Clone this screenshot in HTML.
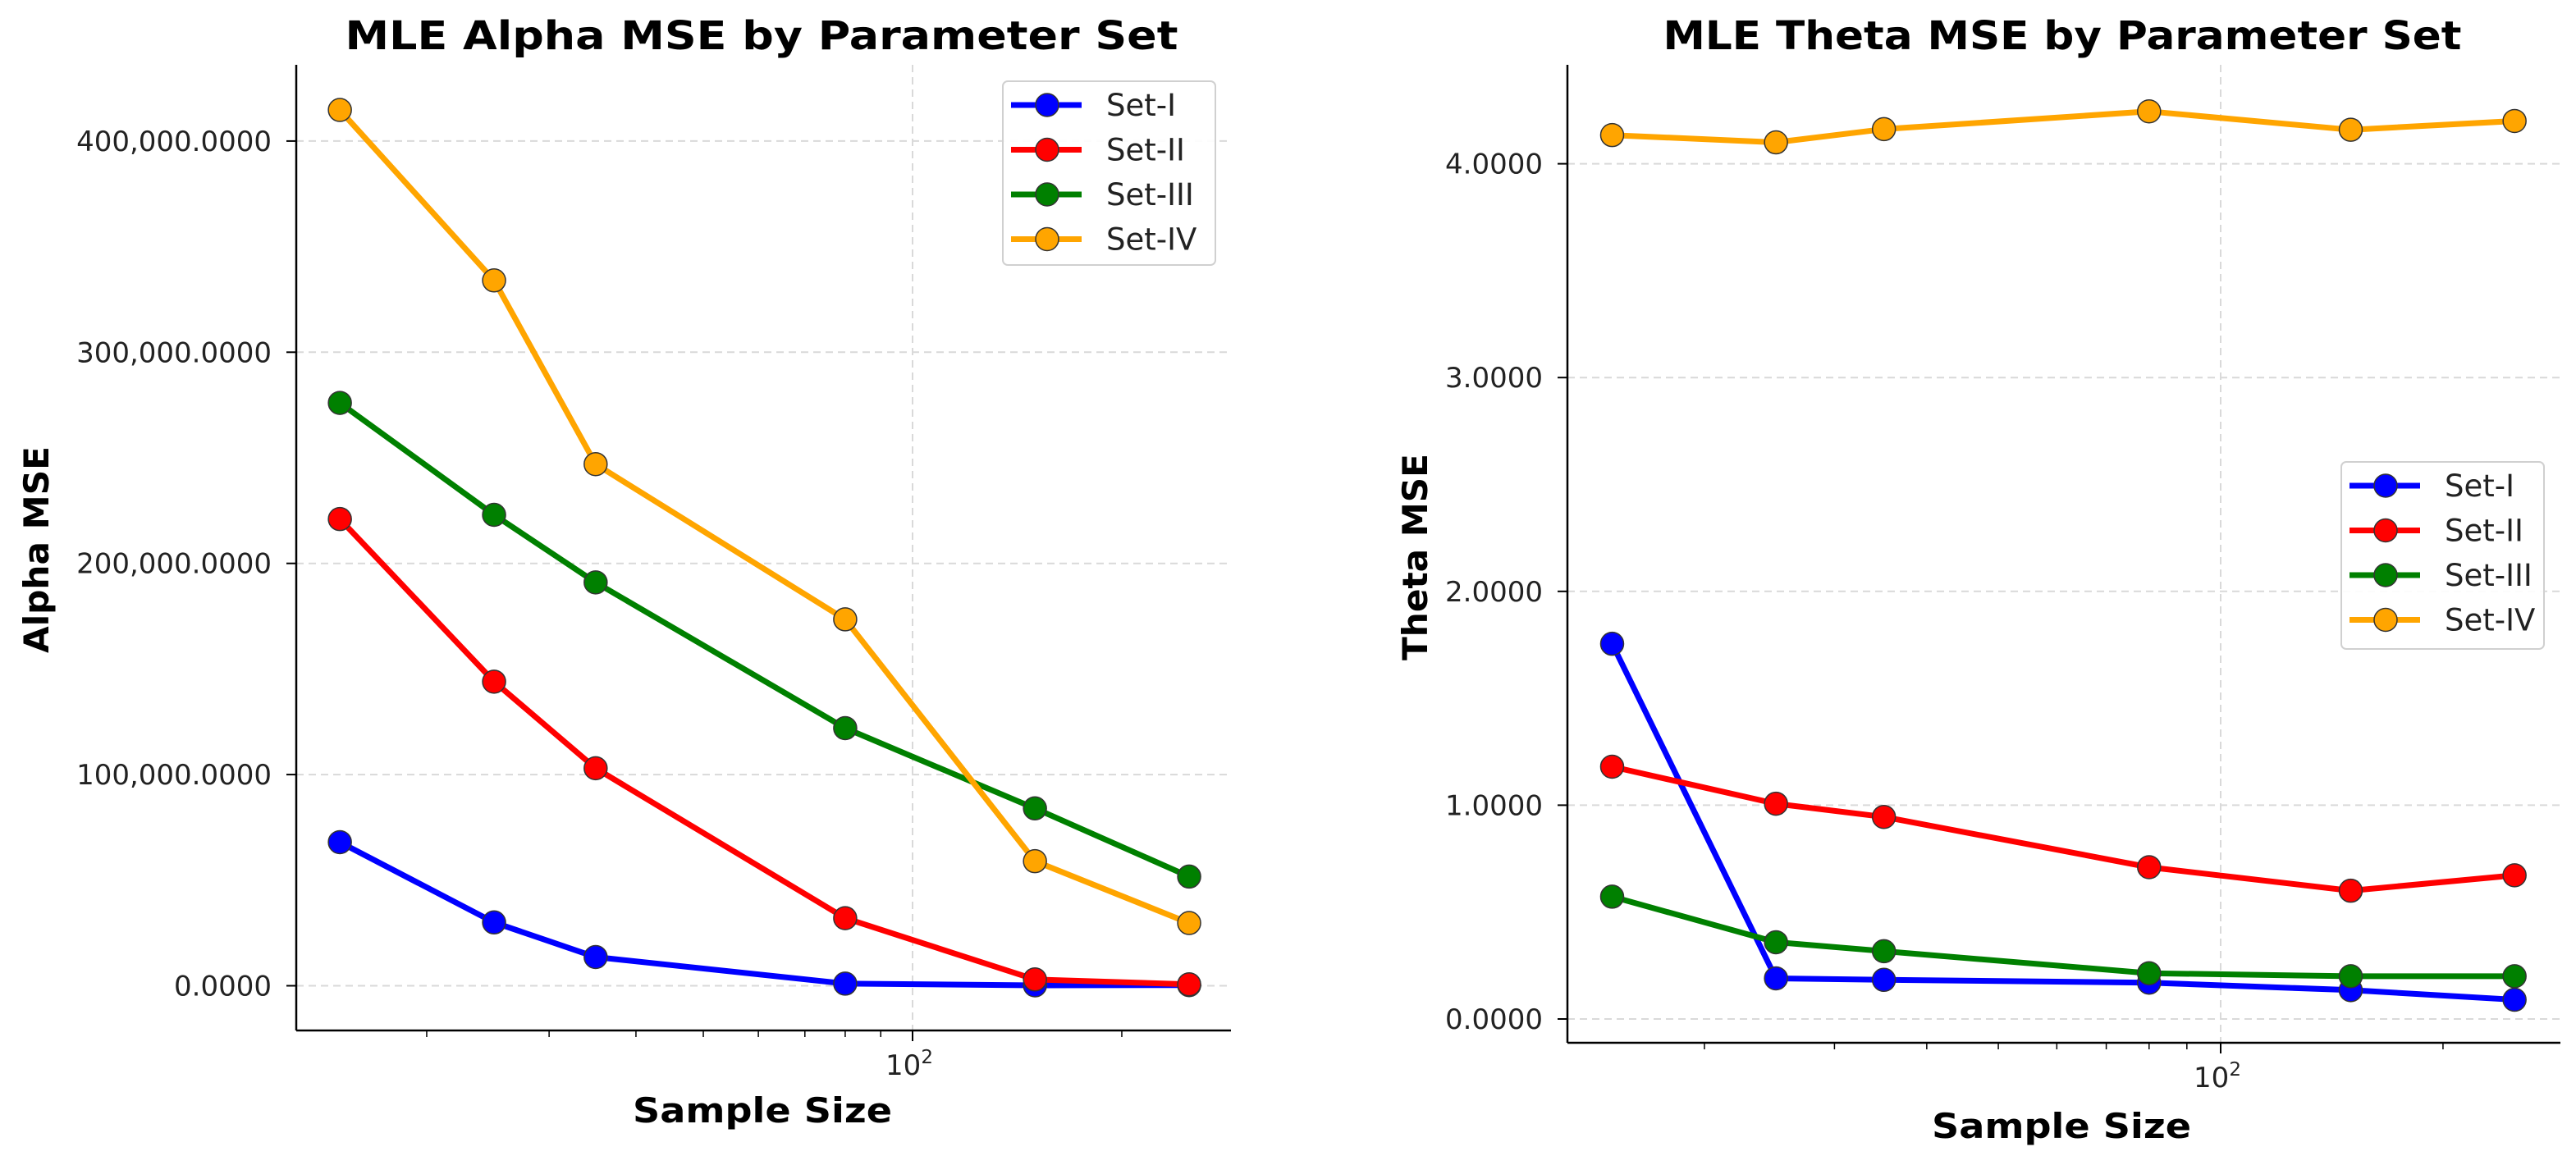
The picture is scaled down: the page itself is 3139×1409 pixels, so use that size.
<!DOCTYPE html>
<html><head><meta charset="utf-8"><style>
html,body{margin:0;padding:0;background:#fff;}
svg{display:block;font-family:"DejaVu Sans","Liberation Sans",sans-serif;}
</style></head><body>
<svg id="fig" width="3139" height="1409" viewBox="0 0 3139 1409" xmlns="http://www.w3.org/2000/svg">
<rect width="3139" height="1409" fill="#fff"/>
</svg>
<script>
const sampleSizes = [15, 25, 35, 80, 150, 250];
const seriesNames = ["Set-I", "Set-II", "Set-III", "Set-IV"];
const alphaSet1 = [68e6, 30e6, 13.6e6, 1e6, 0.2e6, 0.3e6];
const alphaSet2 = [221e6, 144e6, 103e6, 32e6, 3e6, 0.7e6];
const alphaSet3 = [276e6, 223e6, 191e6, 122e6, 84e6, 51.7e6];
const alphaSet4 = [414.7e6, 334e6, 247e6, 173.5e6, 59e6, 29.7e6];
const thetaSet1 = [1.755, 0.19, 0.183, 0.17, 0.135, 0.09];
const thetaSet2 = [1.18, 1.007, 0.945, 0.71, 0.60, 0.672];
const thetaSet3 = [0.572, 0.359, 0.317, 0.214, 0.2, 0.2];
const thetaSet4 = [4.134, 4.10, 4.162, 4.245, 4.159, 4.2];
const alphaTicks = [0, 100e6, 200e6, 300e6, 400e6];
const alphaTickLabels = ["0.0000", "100,000.0000", "200,000.0000", "300,000.0000", "400,000.0000"];
const thetaTicks = [0, 1, 2, 3, 4];
const thetaTickLabels = ["0.0000", "1.0000", "2.0000", "3.0000", "4.0000"];
const colors = ["#0000ff", "#ff0000", "#008000", "#ffa500"];

const NS = "http://www.w3.org/2000/svg";
const svg = document.getElementById('fig');
function el(tag, attrs, parent, text){
  const e = document.createElementNS(NS, tag);
  for (const k in attrs) e.setAttribute(k, attrs[k]);
  if (text !== undefined) e.textContent = text;
  (parent || svg).appendChild(e);
  return e;
}

function drawChart(cfg){
  const g = el('g', {});
  
  
  const xs = v => cfg.x100 + (Math.log10(v) - 2) * cfg.pxDec;
  const ys = v => cfg.y0 - v * cfg.pxUnit;
  // grid
  cfg.ticks.forEach((t, i) => {
    const gl = el('line', {x1: cfg.left, x2: cfg.right, y1: ys(t), y2: ys(t), stroke: '#d9d9d9', 'stroke-width': 2, 'stroke-dasharray': '9,6'}, g);
    
    
  });
  const vg = el('line', {x1: xs(100), x2: xs(100), y1: cfg.top, y2: cfg.bottom, stroke: '#d9d9d9', 'stroke-width': 2, 'stroke-dasharray': '9,6'}, g);
  
  
  // series
  const all = cfg.series;
  all.forEach((vals, si) => {
    const sg = el('g', {}, g);
    
    
    const pts = vals.map((v, i) => xs(sampleSizes[i]).toFixed(1) + ',' + ys(v).toFixed(1)).join(' ');
    const pl = el('polyline', {points: pts, fill: 'none', stroke: colors[si], 'stroke-width': 7, 'stroke-linejoin': 'round'}, sg);
    
    
    vals.forEach((v, i) => {
      const c = el('circle', {cx: xs(sampleSizes[i]), cy: ys(v), r: 14, fill: colors[si], stroke: '#333', 'stroke-width': 1.5}, sg);
      
      
    });
  });
  // spines
  const sp1 = el('line', {x1: cfg.left, x2: cfg.left, y1: cfg.top, y2: cfg.bottom, stroke: '#000', 'stroke-width': 2.5}, g);
  
  
  const sp2 = el('line', {x1: cfg.left, x2: cfg.right, y1: cfg.bottom, y2: cfg.bottom, stroke: '#000', 'stroke-width': 2.5}, g);
  
  
  // y ticks
  cfg.ticks.forEach((t, i) => {
    const tk = el('line', {x1: cfg.left - 12, x2: cfg.left, y1: ys(t), y2: ys(t), stroke: '#000', 'stroke-width': 2}, g);
    
    
    const tl = el('text', {x: cfg.left - 30, y: ys(t) + 12, 'text-anchor': 'end', 'font-size': 34, fill: '#222'}, g, cfg.tickLabels[i]);
    
    
  });
  // x ticks
  [20,30,40,50,60,70,80,90,200].forEach(m => {
    const tk = el('line', {x1: xs(m), x2: xs(m), y1: cfg.bottom, y2: cfg.bottom + 8, stroke: '#000', 'stroke-width': 1.5}, g);
    
    
  });
  const mt = el('line', {x1: xs(100), x2: xs(100), y1: cfg.bottom, y2: cfg.bottom + 13, stroke: '#000', 'stroke-width': 2}, g);
  
  
  const xl = el('text', {x: xs(100) - 4, y: cfg.bottom + 54, 'text-anchor': 'middle', 'font-size': 34, fill: '#222'}, g);
  
  
  el('tspan', {}, xl, '10');
  el('tspan', {dy: -14, 'font-size': 23}, xl, '2');
  // titles
  const tt = el('text', {x: cfg.titleX, y: 60, 'text-anchor': 'middle', 'font-size': 48, 'font-weight': 'bold', textLength: cfg.titleW, lengthAdjust: 'spacingAndGlyphs'}, g, cfg.title);
  
  
  const xt = el('text', {x: cfg.xLabX, y: cfg.xLabY + 15, 'text-anchor': 'middle', 'font-size': 42, 'font-weight': 'bold', textLength: 316, lengthAdjust: 'spacingAndGlyphs'}, g, 'Sample Size');
  
  
  const yt = el('text', {x: 0, y: 0, transform: `translate(${cfg.yLabX + 14},${cfg.yLabY}) rotate(-90)`, 'text-anchor': 'middle', 'font-size': 42, 'font-weight': 'bold', textLength: 252, lengthAdjust: 'spacingAndGlyphs'}, g, cfg.yTitle);
  
  
  // legend
  const lg = el('g', {}, g);
  
  
  const L = cfg.legend;
  const box = el('rect', {x: L.x, y: L.y, width: L.w, height: L.h, rx: 6, fill: '#fff', 'fill-opacity': 0.9, stroke: '#d0d0d0', 'stroke-width': 2}, lg);
  
  
  seriesNames.forEach((n, i) => {
    const ey = L.y + 29 + i * 54.5;
    const eg = el('g', {}, lg);
    
    
    el('line', {x1: L.x + 10, x2: L.x + 96, y1: ey, y2: ey, stroke: colors[i], 'stroke-width': 7}, eg);
    el('circle', {cx: L.x + 54, cy: ey, r: 14, fill: colors[i], stroke: '#333', 'stroke-width': 1.5}, eg);
    el('text', {x: L.x + 126, y: ey + 13, 'font-size': 37, fill: '#222'}, eg, n);
  });
}

drawChart({name: 'alpha-mse-chart', series: [alphaSet1, alphaSet2, alphaSet3, alphaSet4],
  ticks: alphaTicks, tickLabels: alphaTickLabels,
  left: 361, right: 1500, top: 79, bottom: 1256,
  x100: 1112, pxDec: 847, y0: 1201.5, pxUnit: 257.4 / 100e6,
  title: 'MLE Alpha MSE by Parameter Set', titleX: 928, titleW: 1015,
  yTitle: 'Alpha MSE', xLabX: 929, xLabY: 1353, yLabX: 45, yLabY: 670,
  legend: {x: 1222, y: 99, w: 259, h: 224}});

drawChart({name: 'theta-mse-chart', series: [thetaSet1, thetaSet2, thetaSet3, thetaSet4],
  ticks: thetaTicks, tickLabels: thetaTickLabels,
  left: 1910, right: 3120, top: 79, bottom: 1271,
  x100: 2706, pxDec: 900, y0: 1242, pxUnit: 260.6,
  title: 'MLE Theta MSE by Parameter Set', titleX: 2513, titleW: 973,
  yTitle: 'Theta MSE', xLabX: 2512, xLabY: 1372, yLabX: 1725, yLabY: 679,
  legend: {x: 2853, y: 563, w: 247, h: 228}});
</script>
</body></html>
